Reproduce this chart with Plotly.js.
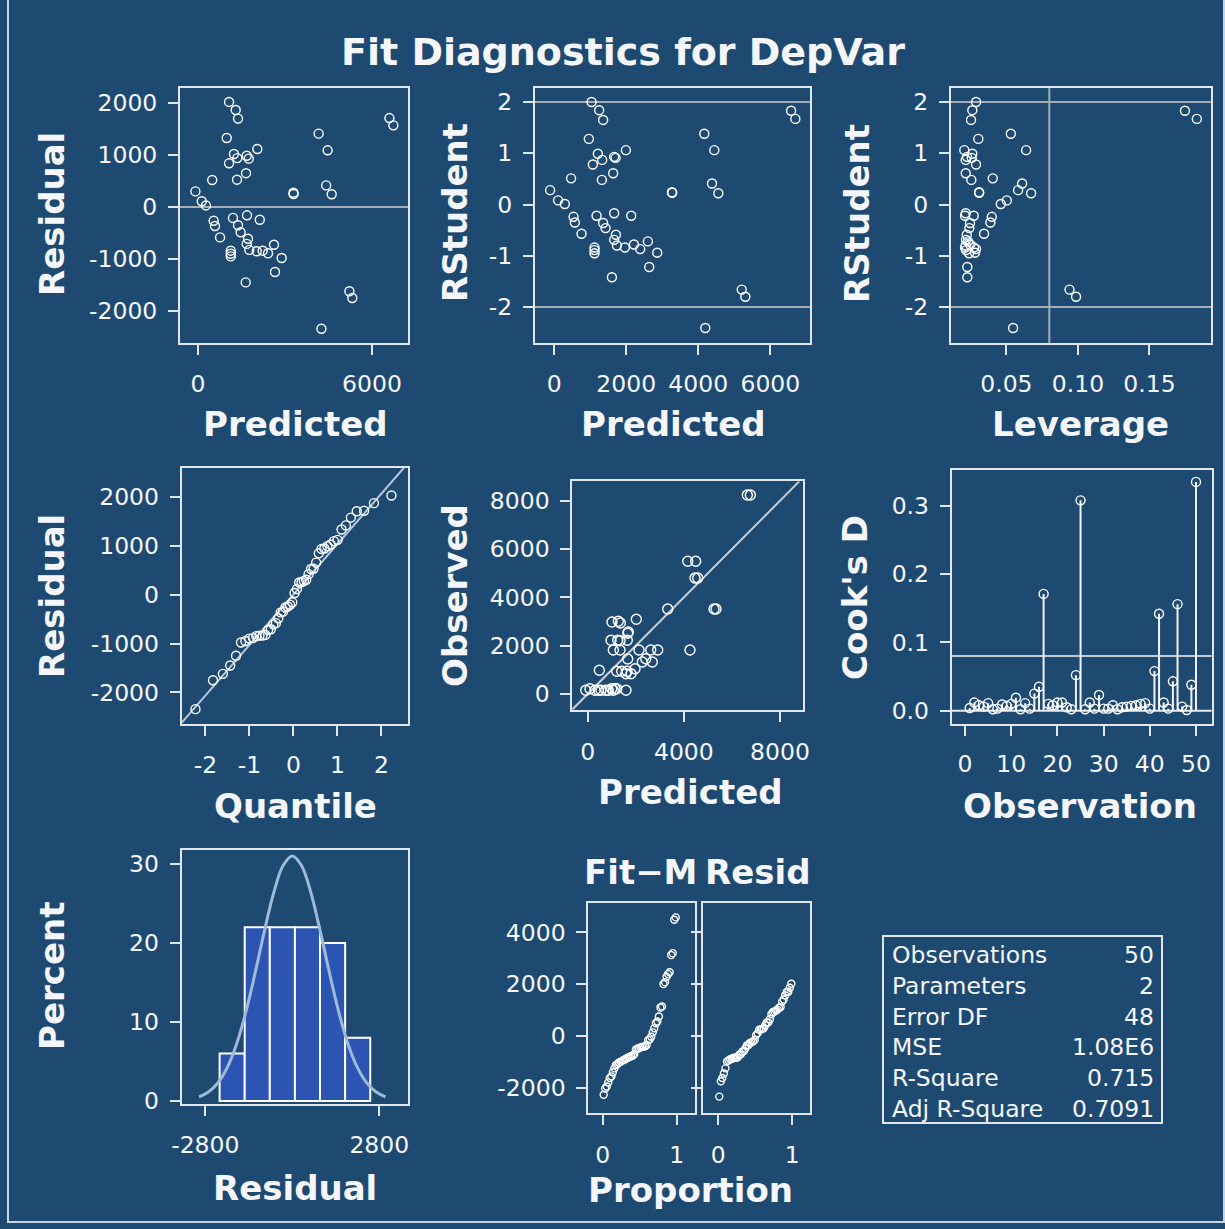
<!DOCTYPE html>
<html>
<head>
<meta charset="utf-8">
<script src="https://cdn.plot.ly/plotly-3.0.1.min.js"></script>
<style>html,body{margin:0;padding:0;background:#1e4a72;}#chart{width:1225px;height:1229px;}</style>
</head>
<body>
<div id="chart"></div>
<script>
// ---------- Data ----------
// Residual vs Predicted
const predicted1 = [1070,1300,1380,990,4160,6600,6735,4470,2045,1240,1355,1680,1750,1070,1655,1345,490,-90,3290,3295,4420,4610,130,275,540,585,1205,1690,2130,1380,1470,760,1725,1680,1770,2025,2230,2415,2620,2885,1130,1130,1130,2655,1645,5220,5320,4255];
const residual1 = [2020,1865,1700,1327,1410,1710,1570,1090,1115,1020,940,985,930,840,650,525,520,300,275,250,415,245,110,30,-265,-365,-210,-160,-245,-350,-485,-585,-610,-710,-825,-850,-840,-890,-725,-980,-840,-900,-950,-1250,-1450,-1620,-1750,-2340];
// RStudent vs Predicted
const predicted2 = [1039,1250,1361,964,4167,6575,6694,4444,1992,1214,1333,1667,1706,1075,1639,1325,472,-111,3269,3278,4381,4556,111,297,539,575,1178,1667,2139,1361,1428,761,1714,1667,1742,1964,2214,2389,2603,2861,1122,1122,1122,2639,1603,5206,5306,4194];
const rstudent = [2.00,1.84,1.65,1.28,1.38,1.83,1.67,1.06,1.06,0.99,0.87,0.93,0.91,0.78,0.61,0.48,0.51,0.28,0.24,0.23,0.41,0.22,0.08,0.01,-0.24,-0.35,-0.22,-0.17,-0.22,-0.36,-0.46,-0.57,-0.59,-0.69,-0.80,-0.84,-0.78,-0.87,-0.72,-0.94,-0.84,-0.89,-0.95,-1.22,-1.42,-1.66,-1.80,-2.41];
// RStudent vs Leverage
const leverage = [0.0288,0.0262,0.0253,0.0304,0.0531,0.1748,0.1831,0.0638,0.0206,0.0262,0.0216,0.0225,0.0258,0.0288,0.0216,0.0255,0.0405,0.0582,0.0309,0.0310,0.0610,0.0673,0.0503,0.0461,0.0398,0.0388,0.0211,0.0216,0.0272,0.0246,0.0241,0.0344,0.0223,0.0218,0.0216,0.0211,0.0246,0.0288,0.0232,0.0281,0.0274,0.0218,0.0239,0.0227,0.0227,0.0941,0.0987,0.0547];
const rstudentLev = [2.00,1.84,1.65,1.28,1.38,1.83,1.67,1.06,1.06,0.99,0.87,0.93,0.91,0.78,0.61,0.48,0.51,0.28,0.24,0.23,0.41,0.22,0.08,0.01,-0.24,-0.35,-0.22,-0.17,-0.22,-0.36,-0.46,-0.57,-0.59,-0.69,-0.80,-0.84,-0.78,-0.87,-0.72,-0.94,-0.84,-0.89,-0.95,-1.22,-1.42,-1.66,-1.80,-2.41];
const leverageCut = 0.08;
// Q-Q plot of residuals
const quantile = [-2.227,-1.829,-1.604,-1.438,-1.305,-1.192,-1.093,-1.003,-0.920,-0.844,-0.772,-0.703,-0.638,-0.576,-0.515,-0.457,-0.400,-0.344,-0.289,-0.236,-0.183,-0.130,-0.078,-0.026,0.026,0.078,0.130,0.183,0.236,0.289,0.344,0.400,0.457,0.515,0.576,0.638,0.703,0.772,0.844,0.920,1.003,1.093,1.192,1.305,1.438,1.604,1.829,2.227];
const qqResidual = [-2340,-1750,-1620,-1450,-1250,-980,-950,-900,-890,-850,-840,-840,-825,-725,-710,-610,-585,-485,-365,-350,-265,-245,-210,-160,30,110,245,250,275,300,415,520,525,650,840,930,940,985,1020,1090,1115,1327,1410,1570,1700,1710,1865,2020];
const qqSlope = 1030;
// Observed vs Predicted
const predicted5 = [6640,6765,4160,4492,4463,4575,5254,5337,3328,4255,1011,1273,1356,2022,1689,1664,969,1248,1344,1648,1065,1344,2134,2621,2912,1664,2413,2271,2687,483,1206,1414,1635,1801,1968,1593,-83,96,304,441,553,749,857,998,1065,1136,1206,1593];
const observed5 = [8237,8237,5493,5493,4801,4801,3518,3518,3518,1821,2980,3009,2939,3092,2566,2512,2222,2222,2206,2222,1821,1821,1821,1821,1821,1449,1461,1325,1325,981,940,940,940,840,1047,840,153,219,153,153,153,153,153,219,153,219,219,153];
// Cook's D by observation
const observation = [1,2,3,4,5,6,7,8,9,10,11,12,13,14,15,16,17,18,19,20,21,22,23,24,25,26,27,28,29,30,31,32,33,34,35,36,37,38,39,40,41,42,43,44,45,46,47,48,49,50];
const cooksD = [0.004,0.012,0.008,0.006,0.011,0.002,0.003,0.009,0.007,0.010,0.019,0.002,0.011,0.003,0.025,0.035,0.171,0.010,0.008,0.012,0.012,0.005,0.002,0.052,0.308,0.002,0.012,0.003,0.023,0.003,0.003,0.008,0.002,0.005,0.006,0.007,0.008,0.010,0.011,0.003,0.058,0.142,0.012,0.003,0.043,0.156,0.006,0.001,0.038,0.335];
const cooksCut = 0.08;
// Histogram of residuals
const binMid = [-1936,-1128,-320,488,1296,2104];
const binPercent = [6,22,22,22,20,8];
const binWidth = 808;
const curveX = [-3000,-2700,-2400,-2100,-1800,-1500,-1200,-900,-600,-300,0,300,600,900,1200,1500,1800,2100,2400,2700,3000];
const curveY = [0.52,1.14,2.28,4.20,7.13,11.18,16.14,21.47,26.33,29.76,31.0,29.76,26.33,21.47,16.14,11.18,7.13,4.20,2.28,1.14,0.52];
// Residual-fit spread plot
const proportion = [0.013,0.034,0.054,0.075,0.096,0.117,0.137,0.158,0.179,0.199,0.220,0.241,0.262,0.282,0.303,0.324,0.345,0.365,0.386,0.407,0.427,0.448,0.469,0.490,0.510,0.531,0.552,0.573,0.593,0.614,0.635,0.655,0.676,0.697,0.718,0.738,0.759,0.780,0.801,0.821,0.842,0.863,0.883,0.904,0.925,0.946,0.966,0.987];
const fitMinusMean = [-2270,-2030,-1950,-1790,-1620,-1560,-1400,-1250,-1120,-1080,-1020,-1000,-960,-930,-900,-860,-830,-800,-780,-750,-700,-520,-490,-470,-440,-420,-410,-400,-350,-160,-130,-30,140,300,490,560,750,1100,1140,2010,2080,2290,2390,2460,3130,3200,4490,4580];
const spreadResidual = [-2340,-1750,-1620,-1450,-1250,-980,-950,-900,-890,-850,-840,-840,-825,-725,-710,-610,-585,-485,-365,-350,-265,-245,-210,-160,30,110,245,250,275,300,415,520,525,650,840,930,940,985,1020,1090,1115,1327,1410,1570,1700,1710,1865,2020];
// Fit statistics
const statLabels = ["Observations","Parameters","Error DF","MSE","R-Square","Adj R-Square"];
const statValues = ["50","2","48","1.08E6","0.715","0.7091"];
// Tick labels
const resTicks = [-2000,-1000,0,1000,2000];
const resTickText = ["-2000","-1000","0","1000","2000"];
const rsTicks = [-2,-1,0,1,2];
const rsTickText = ["-2","-1","0","1","2"];
const levTicks = [0.05,0.10,0.15];
const levTickText = ["0.05","0.10","0.15"];
const cookTicks = [0,0.1,0.2,0.3];
const cookTickText = ["0.0","0.1","0.2","0.3"];
const histTicks = [-2800,2800];
const histTickText = ["-2800","2800"];
const spreadTicks = [-2000,0,2000,4000];
const spreadTickText = ["-2000","0","2000","4000"];

// ---------- Styling ----------
const W = 1225, H = 1229;
const BG = '#1e4a72';
const FG = '#e2e7ee';
const TXT = '#f4f6f9';
const REF = '#a6adb7';
const FONT = 'DejaVu Sans';
const TICK = 23.5;
const AXT = 34;
const dx = (a,b) => [a/W, b/W];
const dy = (t,b) => [1-b/H, 1-t/H];

function ax(domain, range, extra) {
  return Object.assign({
    domain: domain, range: range, showline: true, mirror: true,
    linecolor: FG, linewidth: 2, ticks: 'outside', ticklen: 10, tickwidth: 2,
    tickcolor: FG, showgrid: false, zeroline: false, fixedrange: true,
    tickfont: {family: FONT, size: TICK, color: TXT}, ticklabelstandoff: 6
  }, extra || {});
}

const mk = (size) => ({symbol: 'circle-open', size: size, color: '#ffffff', line: {width: 1.4, color: '#ffffff'}});

// Cook's D needles built from data
const needleX = [], needleY = [];
observation.forEach((o,i) => { needleX.push(o,o,null); needleY.push(0,cooksD[i],null); });

const traces = [
  {type:'scatter', mode:'markers', x: predicted1, y: residual1, xaxis:'x', yaxis:'y', marker: mk(9), hoverinfo:'skip'},
  {type:'scatter', mode:'markers', x: predicted2, y: rstudent, xaxis:'x2', yaxis:'y2', marker: mk(9), hoverinfo:'skip'},
  {type:'scatter', mode:'markers', x: leverage, y: rstudentLev, xaxis:'x3', yaxis:'y3', marker: mk(9), hoverinfo:'skip'},
  {type:'scatter', mode:'markers', x: quantile, y: qqResidual, xaxis:'x4', yaxis:'y4', marker: mk(9), hoverinfo:'skip'},
  {type:'scatter', mode:'markers', x: predicted5, y: observed5, xaxis:'x5', yaxis:'y5', marker: mk(10), hoverinfo:'skip'},
  {type:'scatter', mode:'lines', x: needleX, y: needleY, xaxis:'x6', yaxis:'y6', line:{color:'#f0f2f5', width:2}, hoverinfo:'skip', connectgaps:false},
  {type:'scatter', mode:'markers', x: observation, y: cooksD, xaxis:'x6', yaxis:'y6', marker: mk(9), hoverinfo:'skip'},
  {type:'bar', x: binMid, y: binPercent, width: binWidth, xaxis:'x7', yaxis:'y7', marker:{color:'#2c54b2', line:{color:'#ffffff', width:2}}, hoverinfo:'skip'},
  {type:'scatter', mode:'lines', x: curveX, y: curveY, xaxis:'x7', yaxis:'y7', line:{color:'#9dbad8', width:3, shape:'spline'}, hoverinfo:'skip'},
  {type:'scatter', mode:'markers', x: proportion, y: fitMinusMean, xaxis:'x8', yaxis:'y8', marker: mk(7), hoverinfo:'skip'},
  {type:'scatter', mode:'markers', x: proportion, y: spreadResidual, xaxis:'x9', yaxis:'y9', marker: mk(7), hoverinfo:'skip'}
];

const refLine = (xref, yref, x0, y0, x1, y1, color) => ({type:'line', xref, yref, x0, y0, x1, y1, line:{color: color || REF, width: 2}, layer:'below'});

const shapes = [
  refLine('x','y',-620,0,7240,0),
  refLine('x2','y2',-530,2,7100,2),
  refLine('x2','y2',-530,-2,7100,-2),
  refLine('x3','y3',0.0113,2,0.193,2),
  refLine('x3','y3',0.0113,-2,0.193,-2),
  refLine('x3','y3',leverageCut,-2.70,leverageCut,2.27),
  refLine('x4','y4',-2.54,-2.54*qqSlope,2.51,2.51*qqSlope,'#b9c8da'),
  refLine('x5','y5',-640,-640,8800,8800,'#c9ced6'),
  refLine('x6','y6',-2.9,cooksCut,53.4,cooksCut,'#c4cad2'),
  refLine('x6','y6',-2.9,0,53.4,0,'#e8ebef'),
  // statistics box
  {type:'rect', xref:'paper', yref:'paper', x0:883/W, x1:1162/W, y0:1-1123/H, y1:1-936/H, line:{color:FG, width:2}, fillcolor:'rgba(0,0,0,0)'},
  // outer frame
  {type:'rect', xref:'paper', yref:'paper', x0:8/W, x1:1224/W, y0:1-1222/H, y1:1.01, line:{color:'#c9d3de', width:2}, fillcolor:'rgba(0,0,0,0)'}
];

const ann = (text, x, y, size, bold, angle, xanchor) => ({
  text: bold ? '<b>'+text+'</b>' : text, xref:'paper', yref:'paper', x: x/W, y: 1-y/H,
  xanchor: xanchor || 'center', yanchor:'middle', showarrow:false, textangle: angle || 0,
  font:{family: FONT, size: size, color: TXT}
});

const annotations = [
  ann('Fit Diagnostics for DepVar', 623, 52, 38, true),
  ann('Residual', 52, 214, AXT, true, -90),
  ann('RStudent', 455, 213, AXT, true, -90),
  ann('RStudent', 857, 213, AXT, true, -90),
  ann('Residual', 52, 596, AXT, true, -90),
  ann('Observed', 455, 596, AXT, true, -90),
  ann("Cook's D", 855, 598, AXT, true, -90),
  ann('Percent', 52, 976, AXT, true, -90),
  ann('Predicted', 295, 424, AXT, true),
  ann('Predicted', 673, 424, AXT, true),
  ann('Leverage', 1080, 424, AXT, true),
  ann('Quantile', 295, 806, AXT, true),
  ann('Predicted', 690, 792, AXT, true),
  ann('Observation', 1080, 806, AXT, true),
  ann('Residual', 295, 1188, AXT, true),
  ann('Proportion', 690, 1190, AXT, true),
  ann('Fit\u2212M', 641, 872, AXT, true),
  ann('Resid', 757, 872, AXT, true)
];
const rowY = [955, 986, 1017, 1047, 1078, 1109];
statLabels.forEach((s,i) => {
  annotations.push(ann(s, 890, rowY[i], 23.5, false, 0, 'left'));
  annotations.push(ann(statValues[i], 1156, rowY[i], 23.5, false, 0, 'right'));
});

const layout = {
  width: W, height: H, margin:{l:0,r:0,t:0,b:0},
  paper_bgcolor: BG, plot_bgcolor: BG, showlegend:false,
  xaxis:  ax(dx(180,408), [-621,7241], {tickvals:[0,6000], ticktext:['0','6000'], anchor:'y', ticklabelstandoff:9}),
  yaxis:  ax(dy(88,343), [-2615,2288], {tickvals:resTicks, ticktext:resTickText, anchor:'x'}),
  xaxis2: ax(dx(535,810), [-530,7100], {tickvals:[0,2000,4000,6000], ticktext:['0','2000','4000','6000'], anchor:'y2', ticklabelstandoff:9}),
  yaxis2: ax(dy(88,343), [-2.702,2.273], {tickvals:rsTicks, ticktext:rsTickText, anchor:'x2'}),
  xaxis3: ax(dx(951,1211), [0.0113,0.193], {tickvals:levTicks, ticktext:levTickText, anchor:'y3', ticklabelstandoff:9}),
  yaxis3: ax(dy(88,343), [-2.702,2.273], {tickvals:rsTicks, ticktext:rsTickText, anchor:'x3'}),
  xaxis4: ax(dx(181.7,408.3), [-2.54,2.61], {tickvals:rsTicks, ticktext:rsTickText, anchor:'y4', ticklabelstandoff:9}),
  yaxis4: ax(dy(468,723.7), [-2637,2582], {tickvals:resTicks, ticktext:resTickText, anchor:'x4'}),
  xaxis5: ax(dx(572.3,803.3), [-641,8968], {tickvals:[0,4000,8000], ticktext:['0','4000','8000'], anchor:'y5', ticklabelstandoff:9}),
  yaxis5: ax(dy(481.3,710.3), [-675,8804], {tickvals:[0,2000,4000,6000,8000], ticktext:['0','2000','4000','6000','8000'], anchor:'x5'}),
  xaxis6: ax(dx(951.7,1211.7), [-2.9,53.4], {tickvals:[0,10,20,30,40,50], ticktext:['0','10','20','30','40','50'], anchor:'y6', ticklabelstandoff:8}),
  yaxis6: ax(dy(469.7,724), [-0.0195,0.3529], {tickvals:cookTicks, ticktext:cookTickText, anchor:'x6'}),
  xaxis7: ax(dx(181.7,408.3), [-3560,3733], {tickvals:histTicks, ticktext:histTickText, anchor:'y7', ticklabelstandoff:9}),
  yaxis7: ax(dy(849.7,1104), [-0.38,31.8], {tickvals:[0,10,20,30], ticktext:['0','10','20','30'], anchor:'x7'}),
  xaxis8: ax(dx(588.3,695), [-0.195,1.247], {tickvals:[0,1], ticktext:['0','1'], anchor:'y8', ticklabelstandoff:9}),
  yaxis8: ax(dy(903.3,1113.3), [-2985,5124], {tickvals:spreadTicks, ticktext:spreadTickText, anchor:'x8'}),
  xaxis9: ax(dx(703.3,810), [-0.203,1.239], {tickvals:[0,1], ticktext:['0','1'], anchor:'y9', ticklabelstandoff:9}),
  yaxis9: ax(dy(903.3,1113.3), [-2985,5124], {tickvals:spreadTicks, showticklabels:false, anchor:'x9'}),
  shapes: shapes,
  annotations: annotations,
  bargap: 0
};

Plotly.newPlot('chart', traces, layout, {staticPlot:true, displayModeBar:false});
</script>
</body>
</html>
